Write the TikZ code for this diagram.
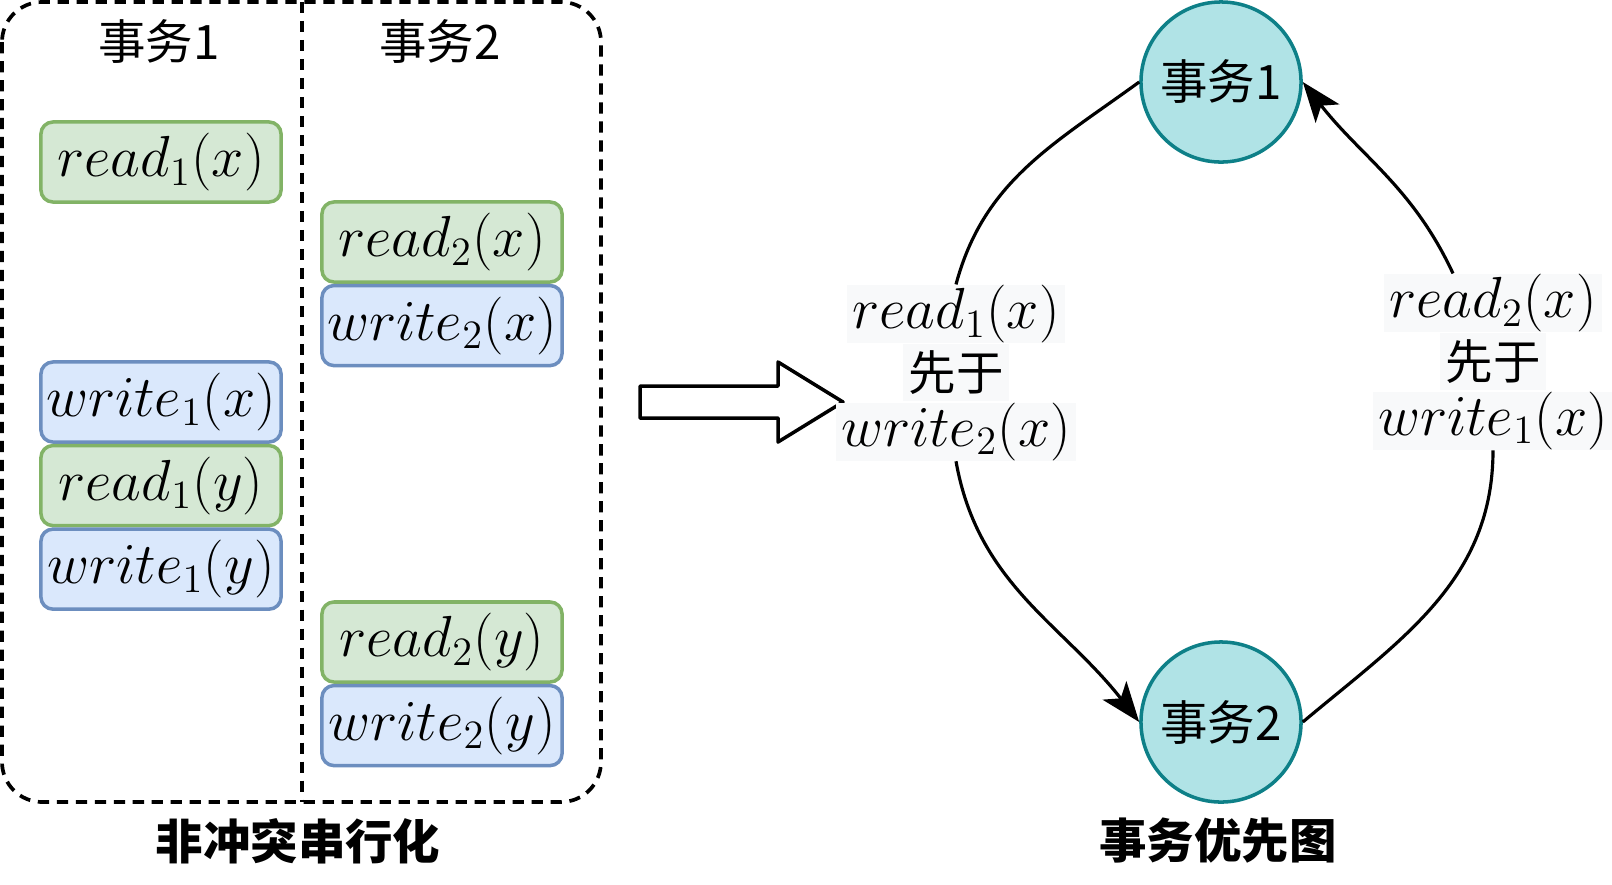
\documentclass[tikz,border=0pt]{standalone}
\usepackage{fontspec}
\setmainfont{Noto Sans CJK SC}
\usetikzlibrary{positioning,arrows.meta}
\definecolor{docNen}{HTML}{D5E8D4}
\definecolor{docVien}{HTML}{82B366}
\definecolor{ghiNen}{HTML}{DAE8FC}
\definecolor{ghiVien}{HTML}{6C8EBF}
\definecolor{sdNen}{HTML}{B0E3E6}
\definecolor{sdVien}{HTML}{0E8088}
\definecolor{nhanNen}{HTML}{F8F9FA}
\newcommand{\toan}[1]{\scalebox{0.953}{$#1$}}
\begin{document}
\begin{tikzpicture}[x=0.01cm,y=-0.01cm,line join=round,
	thaotac/.style={rounded corners=1.2mm,line width=1pt,minimum width=2.4cm,minimum height=0.8cm,inner sep=0pt,font=\fontsize{17.28}{20}\selectfont},
	doc/.style={thaotac,draw=docVien,fill=docNen},
	ghi/.style={thaotac,draw=ghiVien,fill=ghiNen},
	sd/.style={circle,draw=sdVien,fill=sdNen,line width=1pt,minimum size=1.6cm,inner sep=0pt,font=\fontsize{13.5}{16}\selectfont},
	nhan/.style={fill=nhanNen,inner xsep=1.5pt,inner ysep=0pt,minimum height=0.57cm,font=\fontsize{17.28}{20}\selectfont},
	chu/.style={font=\fontsize{13.5}{16}\selectfont},
	tieude/.style={font=\bfseries\fontsize{13.5}{16}\selectfont},
	vien/.style={line width=1.05pt,dash pattern=on 3.2pt off 2.2pt},
	lien/.style={line width=0.9pt},
	mui/.style={-{Stealth[length=4mm,width=3mm,inset=1mm]}}]
		\useasboundingbox (0,0) rectangle (1612,884);
		%==Lịch trình hai cột
		\draw[vien,rounded corners=0.4cm] (2,2) rectangle (601,802);
		\draw[vien] (302,2)--(302,802);
		\node[chu] (tieu1) at (159,41) {事务1};
		\node[chu] (tieu2) at (440,41) {事务2};
		\node[doc] (r1x) at (161,162) {\toan{read_1(x)}};
		\node[ghi] (w1x) at (161,402) {\toan{write_1(x)}};
		\node[doc,below=0pt of w1x] (r1y) {\toan{read_1(y)}};
		\node[ghi,below=0pt of r1y] (w1y) {\toan{write_1(y)}};
		\node[doc] (r2x) at (442,242) {\toan{read_2(x)}};
		\node[ghi,below=0pt of r2x] (w2x) {\toan{write_2(x)}};
		\node[doc] (r2y) at (442,642) {\toan{read_2(y)}};
		\node[ghi,below=0pt of r2y] (w2y) {\toan{write_2(y)}};
		\node[tieude] (ten1) at (298,841) {非冲突串行化};
		%==Mũi tên lớn
		\draw[line width=1pt,fill=white] (640,386)--(778,386)--(778,362)--(843,402)--(778,442)--(778,418)--(640,418)--cycle;
		%==Đồ thị
		\node[sd] (t1) at (1221,82) {事务1};
		\node[sd] (t2) at (1221,722) {事务2};
		\node[tieude] (ten2) at (1218,841) {事务优先图};
		\node[nhan] (nT1) at (956,314) {\toan{read_1(x)}};
		\node[nhan,chu,below=0pt of nT1] (nT2) {先于};
		\node[nhan,below=0pt of nT2] (nT3) {\toan{write_2(x)}};
		\node[nhan] (nP1) at (1493,303) {\toan{read_2(x)}};
		\node[nhan,chu,below=0pt of nP1] (nP2) {先于};
		\node[nhan,below=0pt of nP2] (nP3) {\toan{write_1(x)}};
		\coordinate (P) at ([xshift=-0.4cm]nP1.north);
		\draw[lien] (t1.west) to[out=216,in=75] (nT1.north);
		\draw[lien,mui] (nT3.south) to[out=-80,in=128] (t2.west);
		\draw[lien] (t2.east) to[out=40,in=-90] (nP3.south);
		\draw[lien,mui] (P) to[out=115,in=-52] (t1.east);
\end{tikzpicture}
\end{document}
